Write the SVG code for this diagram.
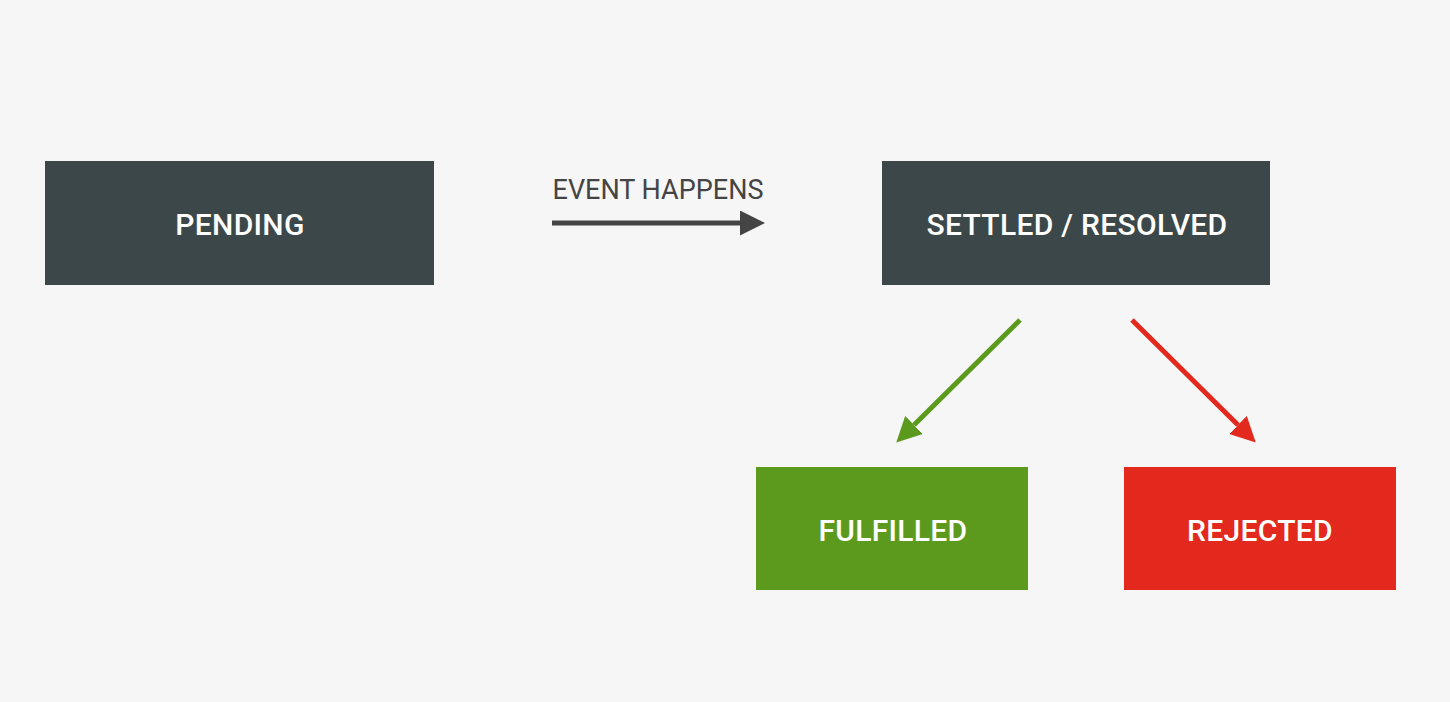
<svg xmlns="http://www.w3.org/2000/svg" width="1450" height="702" viewBox="0 0 1450 702">
<style>
.dark{fill:#3c4749}
.lbl{fill:#ffffff;font-family:Roboto,"Liberation Sans",sans-serif;font-size:30px;font-weight:500;letter-spacing:0.3px;text-anchor:middle}
.elbl{fill:#444444;font-family:Roboto,"Liberation Sans",sans-serif;font-size:27px;text-anchor:middle}
</style>
<defs>
<marker id="ah-dark" markerWidth="5" markerHeight="5" refX="0" refY="2.5" orient="auto" markerUnits="strokeWidth"><path d="M0,0 L5,2.5 L0,5 Z" fill="#444444"/></marker>
<marker id="ah-green" markerWidth="5" markerHeight="5" refX="0" refY="2.5" orient="auto" markerUnits="strokeWidth"><path d="M0,0 L5,2.5 L0,5 Z" fill="#5c9a1e"/></marker>
<marker id="ah-red" markerWidth="5" markerHeight="5" refX="0" refY="2.5" orient="auto" markerUnits="strokeWidth"><path d="M0,0 L5,2.5 L0,5 Z" fill="#e3281e"/></marker>
</defs>
<rect width="1450" height="702" fill="#f6f6f6"/>
<g id="pending"><rect class="dark" x="45" y="161" width="389" height="124"/><text class="lbl" x="240" y="235">PENDING</text></g>
<g id="settled"><rect class="dark" x="882" y="161" width="388" height="124"/><text class="lbl" x="1077" y="235">SETTLED / RESOLVED</text></g>
<g id="fulfilled"><rect fill="#5c9a1e" x="756" y="467" width="272" height="123"/><text class="lbl" x="893" y="541">FULFILLED</text></g>
<g id="rejected"><rect fill="#e3281e" x="1124" y="467" width="272" height="123"/><text class="lbl" x="1260" y="541">REJECTED</text></g>
<g id="connectors">
<text class="elbl" x="658" y="199">EVENT HAPPENS</text>
<line x1="552" y1="223" x2="740" y2="223" stroke="#444444" stroke-width="5" marker-end="url(#ah-dark)"/>
<line x1="1020" y1="320" x2="914" y2="425" stroke="#5c9a1e" stroke-width="5" marker-end="url(#ah-green)"/>
<line x1="1132" y1="320" x2="1238" y2="425" stroke="#e3281e" stroke-width="5" marker-end="url(#ah-red)"/>
</g>
</svg>
